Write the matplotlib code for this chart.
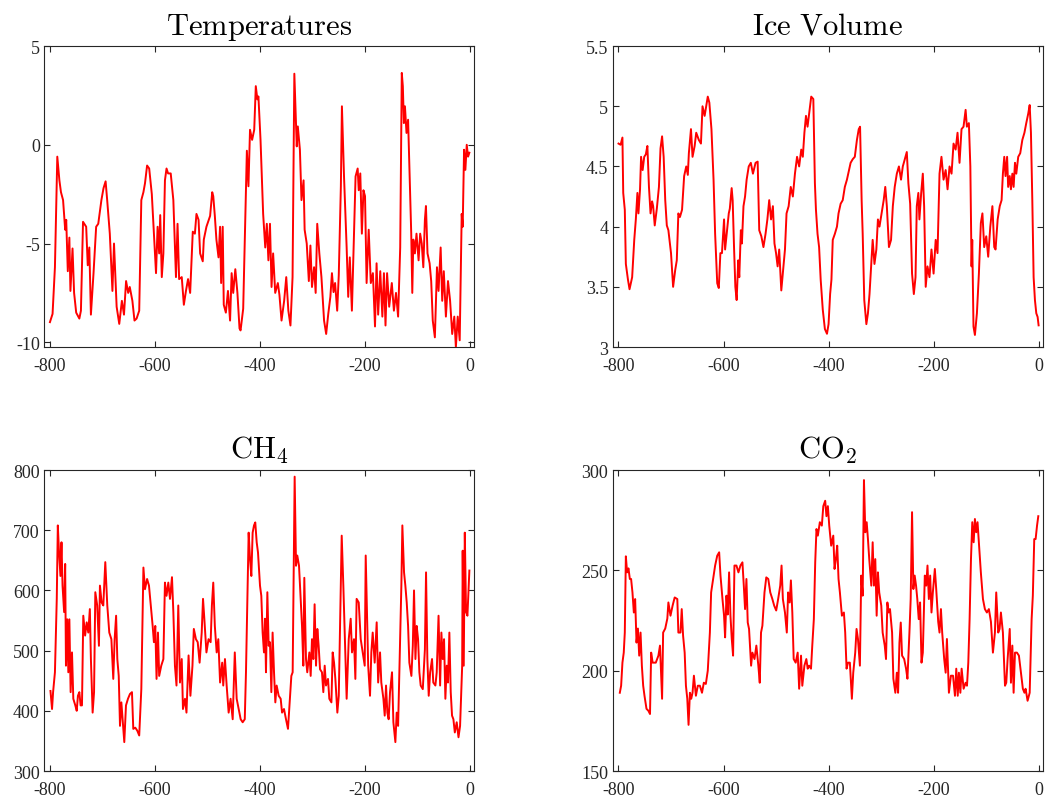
import matplotlib
matplotlib.use('Agg')
import matplotlib.pyplot as plt

plt.rcParams['font.family'] = ['Liberation Serif', 'DejaVu Serif']
plt.rcParams['mathtext.fontset'] = 'cm'
plt.rcParams['axes.unicode_minus'] = False

# Temperatures (ka BP, anomaly)
temp_age = [-800, -795, -790.5, -786, -782, -779, -775, -771, -769, -766, -763, -761, -757, -754, -750,
            -744, -741, -737, -731, -728, -725, -722, -717, -712, -708, -702, -698, -694, -691, -686,
            -681, -678, -673, -668, -663, -659, -655, -651, -648, -643, -639, -635, -630, -626, -622,
            -619, -615, -611, -606, -602, -598, -595, -592, -590, -587, -584, -581, -578, -575, -570,
            -565, -560, -557, -554, -549, -545, -541, -537, -533, -528, -524, -521, -517, -514, -509,
            -507, -502, -495, -491, -489, -486, -483, -479, -476, -474, -471, -469, -465, -461, -457,
            -454, -451, -447, -443, -439, -437, -432, -428, -425, -422, -419, -415, -411, -408, -405,
            -403, -399, -394, -390, -387, -384, -381, -378, -375, -371, -366, -363, -359, -354, -350,
            -346, -342, -338, -334.6, -333, -330, -328, -324, -321, -317, -315, -311, -307, -304, -301,
            -297, -294, -291, -287, -283, -278, -274, -270, -266, -263, -260, -257, -253, -250, -246,
            -244, -240, -235, -232, -229, -225, -222, -218, -214, -212, -209, -206, -203, -200, -197,
            -193, -189, -185, -181, -178, -175, -171, -167, -164, -161, -158, -154, -149, -145, -141,
            -137, -133, -130, -128, -126, -124, -121, -118, -114, -112, -110, -108, -105, -102, -98,
            -95, -92, -89, -86, -84, -81, -77, -74, -71, -67, -63, -60, -56, -53, -50,
            -46, -42, -38, -34, -30, -27, -23.5, -19.7, -15.9, -14, -11.4, -8.9, -6.3, -3.8, -1.3]
temp_val = [-8.98, -8.56, -6.2, -0.6, -1.8, -2.4, -2.8, -4.3, -3.8, -6.4, -4.7, -7.4, -5.25, -7.5, -8.5,
            -8.8, -8.4, -3.9, -4.15, -6.1, -5.2, -8.6, -6.5, -4.15, -4.0, -2.8, -2.2, -1.85, -2.8, -4.5,
            -7.4, -5.0, -8.2, -9.07, -7.9, -8.6, -6.9, -7.5, -7.2, -7.9, -8.9, -8.8, -8.4, -2.8, -2.4,
            -1.95, -1.05, -1.2, -2.5, -4.5, -6.5, -4.15, -5.5, -3.56, -6.7, -5.5, -1.8, -1.2, -1.45, -1.45,
            -2.8, -6.7, -4.0, -6.8, -6.7, -8.1, -7.4, -6.8, -7.5, -4.4, -4.5, -3.5, -3.8, -5.5, -5.9,
            -4.8, -4.15, -3.6, -2.4, -2.6, -3.6, -4.8, -5.7, -4.15, -7.0, -4.15, -8.1, -8.5, -7.4, -8.9,
            -6.5, -7.5, -6.3, -7.5, -9.3, -9.4, -8.3, -3.8, -0.3, -2.1, 0.76, 0.25, 0.76, 2.97, 2.3,
            2.45, 0.25, -3.5, -5.2, -4.0, -5.85, -4.0, -7.2, -5.5, -7.5, -7.0, -7.6, -8.9, -7.9, -6.7,
            -8.4, -9.15, -6.7, 3.6, 2.3, -0.08, 0.93, -0.25, -2.8, -1.8, -4.3, -5.0, -6.9, -5.1, -7.2,
            -6.2, -7.5, -4.0, -5.5, -6.7, -8.9, -9.58, -8.56, -7.7, -6.5, -7.46, -7.0, -8.4, -6.6, -2.1,
            1.95, -1.6, -5.2, -7.7, -5.7, -8.4, -5.5, -1.6, -1.2, -2.3, -1.45, -4.5, -2.3, -2.6, -7.0,
            -4.3, -7.0, -6.5, -9.2, -6.0, -8.6, -6.4, -8.7, -6.5, -9.15, -6.5, -8.2, -7.0, -8.4, -7.5,
            -8.7, -5.2, 3.64, 2.97, 1.1, 1.95, 0.6, 1.27, -2.46, -4.5, -7.5, -4.8, -5.5, -4.5, -5.85,
            -4.5, -5.0, -6.2, -3.8, -3.1, -5.5, -6.0, -6.9, -8.9, -9.75, -6.2, -7.4, -5.2, -7.9, -6.4,
            -8.7, -6.9, -7.9, -9.58, -8.7, -10.25, -8.7, -9.9, -3.5, -4.15, -0.25, -1.27, 0.0, -0.6, -0.4]

# Ice volume
ice_age = [-800, -796, -792.5, -791, -788, -786, -782, -779, -774, -770, -767, -764, -762, -759, -757,
           -754, -751, -748, -745, -742, -739, -736, -734, -731, -727, -723, -720, -717, -714, -711,
           -708, -705, -700, -696, -692, -689, -686, -683, -679, -675, -671, -668, -666, -662, -659,
           -655, -652, -647, -643, -640, -636, -633, -630, -627, -623, -619, -616, -612, -609, -606,
           -603, -599, -597, -594, -590, -588, -584.5, -582.6, -580, -577.5, -575, -572, -570, -567, -565,
           -562, -559, -556, -552, -548, -544, -539, -535, -532, -528, -524, -520, -516.5, -513, -509.5,
           -506, -503, -500, -497, -494, -490, -486, -483, -480, -476, -472, -468, -464, -460, -456,
           -452, -449, -446, -443, -440, -436, -433, -429, -426, -424, -421, -418, -415, -411, -407,
           -403, -400, -397, -394.5, -392, -388, -384, -381, -377, -373, -369, -365, -361, -358, -354,
           -350, -346, -342.5, -340, -337, -335, -332, -328, -325, -322, -319, -316, -312.6, -309, -306,
           -303, -299, -295, -292, -289, -285, -281, -277.6, -274, -270, -266, -262, -258.6, -254.8, -251,
           -248, -244.6, -241, -237.6, -234.4, -232, -229, -227, -223.6, -220.5, -218, -215, -211.6, -207.8, -204,
           -200, -196, -192.5, -188.7, -185, -181, -177, -173.4, -169.6, -165.8, -162, -158, -154.4, -150.6, -146.8,
           -143, -139, -136.6, -132.8, -130, -127.7, -126.4, -124, -121.3, -117.5, -113.7, -110, -107, -103.6, -99.7,
           -96, -92, -88, -84.5, -82, -78, -74, -70.5, -68, -65.4, -63, -60, -58, -55, -52.7,
           -50, -47.6, -45, -42.5, -38.8, -35, -31, -27, -23.5, -19.7, -17, -14.6, -12, -9.5, -7,
           -4.4, -1.9, 0]
ice_val = [4.69, 4.68, 4.74, 4.28, 4.14, 3.69, 3.56, 3.48, 3.58, 3.89, 4.06, 4.28, 4.11, 4.31, 4.58,
           4.47, 4.58, 4.6, 4.67, 4.33, 4.11, 4.21, 4.17, 4.01, 4.15, 4.33, 4.65, 4.75, 4.58, 4.22,
           4.01, 3.97, 3.78, 3.5, 3.64, 3.72, 4.11, 4.08, 4.14, 4.42, 4.5, 4.43, 4.61, 4.81, 4.58,
           4.67, 4.78, 4.72, 4.69, 5.0, 4.92, 5.0, 5.08, 5.03, 4.81, 4.39, 3.94, 3.53, 3.49, 3.78,
           3.78, 4.06, 3.81, 3.94, 4.11, 4.15, 4.32, 4.22, 3.83, 3.5, 3.39, 3.72, 3.58, 3.97, 3.86,
           4.17, 4.25, 4.39, 4.5, 4.53, 4.44, 4.53, 4.54, 3.97, 3.92, 3.83, 3.94, 4.06, 4.22, 4.06,
           4.17, 3.86, 3.78, 3.67, 3.81, 3.47, 3.67, 3.81, 4.11, 4.17, 4.33, 4.25, 4.44, 4.58, 4.5,
           4.64, 4.58, 4.78, 4.92, 4.83, 4.97, 5.08, 5.06, 4.36, 4.14, 3.94, 3.83, 3.56, 3.31, 3.15,
           3.11, 3.19, 3.44, 3.56, 3.89, 3.94, 4.0, 4.11, 4.19, 4.22, 4.33, 4.39, 4.47, 4.53, 4.56,
           4.58, 4.72, 4.81, 4.83, 4.22, 3.94, 3.39, 3.19, 3.28, 3.44, 3.67, 3.89, 3.69, 3.81, 4.06,
           4.0, 4.11, 4.22, 4.33, 4.17, 3.83, 3.89, 4.17, 4.33, 4.44, 4.5, 4.39, 4.5, 4.56, 4.62,
           4.36, 4.19, 3.61, 3.44, 3.58, 4.17, 4.28, 4.06, 4.28, 4.44, 4.17, 3.5, 3.67, 3.58, 3.81,
           3.61, 3.89, 3.78, 4.44, 4.58, 4.39, 4.47, 4.31, 4.5, 4.44, 4.69, 4.64, 4.78, 4.53, 4.81,
           4.83, 4.97, 4.83, 4.86, 4.5, 3.67, 3.89, 3.17, 3.1, 3.28, 3.61, 4.03, 4.11, 3.83, 3.92,
           3.75, 4.0, 4.17, 3.83, 3.81, 4.06, 4.17, 4.22, 4.44, 4.58, 4.42, 4.58, 4.33, 4.42, 4.31,
           4.44, 4.33, 4.53, 4.44, 4.58, 4.61, 4.72, 4.78, 4.86, 4.94, 5.01, 4.78, 4.22, 3.58, 3.39,
           3.28, 3.25, 3.18]

# CH4 (ppb)
ch4_age = [-799, -796, -794, -790.5, -787, -785, -783, -780, -778, -776, -773, -771, -769.5, -767, -765,
           -763, -760.6, -758, -755.5, -751.7, -749, -746.7, -744, -741.6, -739, -736.5, -733, -730, -727, -724,
           -722, -718.7, -716, -713.6, -710, -706.7, -704.8, -701.6, -698.4, -694.6, -690.8, -687, -683, -679.4, -676.8,
           -674, -671.7, -669, -666.6, -664, -661.6, -658.4, -655.2, -651.4, -647.6, -643.8, -641.3, -637.5, -633.7, -630,
           -626, -622, -619, -615, -611.4, -608, -604.4, -602, -599.4, -597, -594.3, -592, -588, -584, -581,
           -578, -574.6, -571.4, -567.6, -565, -562, -559, -555.6, -552.4, -549, -546.7, -542.8, -540, -536, -532.5,
           -528.6, -526, -522, -518.6, -515, -511, -508.5, -506, -502, -498, -494, -491.6, -489, -486, -482.5,
           -479.4, -476, -472, -470, -466.7, -463.5, -459.7, -456, -452, -448, -444.4, -440.6, -436.8, -433, -429,
           -426.7, -424, -421.6, -419, -416.5, -414, -411.4, -409, -406.3, -403.8, -400, -397.5, -395, -392.4, -390.5,
           -388.6, -386, -383.5, -381, -378.4, -376, -373.3, -370.8, -368.3, -364.4, -360.6, -358, -354.3, -350.5, -346.7,
           -343, -340.3, -337.8, -334, -331.4, -329, -325.7, -322.5, -320, -317.5, -315.6, -312.4, -310, -306, -303.5,
           -301, -298.4, -296, -293.3, -290.8, -288.3, -285.7, -282, -279.4, -276.8, -274.3, -270.5, -268, -264, -261.6,
           -259, -256.5, -252.7, -250, -247.6, -244.4, -241.3, -238.7, -235, -231, -227.3, -224.8, -221, -218.4, -216,
           -212, -208.2, -204.4, -200.6, -198.7, -196.8, -194, -190.5, -188, -185.4, -181.6, -177.8, -175, -171.4, -169,
           -165, -162.5, -160, -157.5, -155, -152.4, -148.6, -146, -142.2, -139.7, -137, -134.6, -130.8, -128.9, -125.7,
           -123.2, -120.6, -118, -115.6, -111.7, -109, -106.7, -104, -101.6, -99, -96.5, -94, -90, -86, -83.8,
           -81.3, -78.7, -76, -72.4, -70, -66, -63.5, -60, -57, -54.6, -52, -49.5, -47, -44.4, -42,
           -39.4, -36.8, -34.3, -31.7, -29, -25.4, -22, -19, -15, -14, -12, -10, -7.6, -5, -2.5, -1.3]
ch4_val = [433, 403, 431, 464, 586, 708, 669, 624, 680, 608, 564, 644, 475, 552, 464,
           552, 431, 497, 420, 409, 400, 425, 431, 409, 409, 558, 525, 547, 530, 569,
           486, 397, 431, 597, 575, 508, 608, 580, 575, 647, 575, 530, 519, 453, 519,
           558, 486, 458, 375, 414, 386, 348, 409, 420, 428, 431, 370, 372, 367, 359,
           436, 638, 602, 619, 608, 575, 541, 514, 541, 453, 530, 458, 475, 486, 613,
           591, 613, 586, 622, 564, 475, 442, 575, 447, 486, 403, 420, 397, 492, 425,
           475, 536, 519, 514, 480, 530, 586, 553, 497, 519, 514, 575, 613, 541, 497,
           519, 447, 480, 442, 486, 442, 397, 420, 386, 497, 420, 403, 386, 381, 386,
           464, 586, 696, 652, 624, 696, 708, 713, 680, 663, 608, 591, 530, 497, 553,
           464, 597, 508, 514, 431, 530, 464, 414, 442, 425, 420, 397, 403, 386, 370,
           420, 458, 464, 789, 641, 658, 641, 586, 541, 475, 621, 486, 464, 497, 458,
           519, 486, 577, 475, 536, 508, 469, 464, 431, 475, 442, 453, 420, 414, 497,
           480, 453, 397, 425, 536, 691, 608, 530, 420, 519, 553, 497, 519, 453, 586,
           580, 519, 497, 475, 658, 586, 475, 425, 497, 530, 480, 547, 447, 497, 447,
           420, 392, 442, 397, 386, 431, 464, 381, 348, 397, 375, 464, 608, 708, 630,
           608, 580, 541, 480, 458, 508, 600, 486, 541, 519, 464, 442, 436, 502, 630,
           486, 425, 464, 486, 447, 442, 464, 558, 442, 530, 486, 519, 420, 475, 447,
           530, 431, 392, 386, 364, 381, 356, 375, 475, 666, 475, 696, 564, 558, 608, 633]

# CO2 (ppm)
co2_age = [-797.5, -795, -792.5, -790, -788, -786, -783.6, -781, -778.4, -776, -773.4, -770.8, -768.3, -765.7, -763,
           -760.6, -758, -755.5, -753, -750.5, -746.7, -743, -740, -737.8, -735, -729, -724, -721, -717, -715,
           -711, -707, -705, -701, -697, -693, -688, -686, -682, -679.6, -677, -674, -671.6, -669, -666.6,
           -664, -661.5, -659, -656.4, -652.6, -649, -645, -641, -637.5, -633.7, -630, -626, -623.6, -619.8, -616,
           -612, -608.3, -605.8, -602, -599, -597, -594.4, -592, -589.4, -586.8, -584.3, -581.8, -579.2, -575.4, -571.6,
           -567.8, -564, -561.4, -559, -556.4, -553.9, -551.4, -547.5, -545, -541, -537.5, -533.7, -531, -528.6, -526,
           -522, -518.6, -514.8, -511, -507, -503.5, -499.7, -496, -492, -489.5, -487, -483, -479.5, -477, -474,
           -471.7, -469, -466.4, -462.6, -458.8, -456, -452.4, -450, -446, -442.3, -439.7, -437, -433.4, -431, -428,
           -425.4, -423, -420.4, -416.6, -412.8, -410, -406.4, -404, -401.3, -398.7, -395, -391, -388.6, -386, -383.5,
           -381, -378.4, -374.6, -370.8, -368.3, -365.7, -363, -359.4, -355.6, -353, -349.2, -346.7, -344, -340.3, -337.8,
           -335, -332.6, -330, -327.4, -325, -322.5, -318.6, -316, -313.6, -311, -308.4, -306, -303.5, -299.6, -297,
           -293, -290.6, -288, -285.5, -283, -279, -276.6, -272.8, -270, -267.6, -265, -262.5, -260, -256, -252.4,
           -249.8, -246, -243.6, -241, -238.5, -236, -233.4, -231, -228.3, -225.7, -223, -220.5, -216.7, -214, -211.6,
           -209, -206.5, -204, -201.4, -197.6, -195, -191.2, -188.7, -186, -183.6, -179.8, -177, -174.6, -170.8, -167,
           -163, -159.3, -156.8, -154, -151.8, -149, -146.6, -142.8, -139, -136.4, -133.9, -131.4, -128.8, -126.3, -123.7,
           -121.3, -118.8, -116.3, -113.7, -110, -106, -102.3, -98.5, -94.7, -90.8, -87, -83.2, -80.7, -76.9, -74.3,
           -71.8, -68, -64, -61.6, -59, -55, -52.7, -50, -47.6, -45, -41.3, -37.5, -33.7, -30, -27,
           -24.8, -21, -17, -13.3, -11, -8.3, -5.7, -3, -0.6]
co2_val = [189, 192.5, 204, 209, 219, 257, 249, 251, 245.7, 245.7, 239, 229, 235.7, 214, 221,
           207.5, 219, 202.5, 192.5, 187.5, 181, 180, 178.4, 209, 204, 204, 207.5, 212.5, 186, 219,
           221, 226, 234, 227.4, 232.4, 236.5, 235.7, 219, 219, 230.7, 217.4, 209, 192.5, 186, 173,
           189, 186, 189, 197.5, 187.5, 192.5, 192.5, 189, 194, 193.4, 200, 219, 239, 245.7, 252.4,
           257.3, 259, 247.5, 235.7, 227.4, 216.6, 237.4, 228, 249, 227.4, 215.8, 207.5, 252.4, 252.4, 249,
           252.4, 254, 242.4, 230.7, 245.7, 224, 220.8, 202.5, 209, 205.8, 212.5, 202.5, 194, 219, 222.4,
           239, 246.5, 245.7, 239, 235.7, 232.4, 230, 235.7, 242.4, 252.4, 235.7, 229, 219, 239, 234,
           245, 229, 205.8, 204, 209, 191, 207.5, 192.5, 202.5, 205.8, 201, 202.5, 201, 212.5, 225.7,
           254, 270.6, 267.3, 274, 272.3, 282, 284.7, 277, 282, 272.3, 262.3, 267.3, 250.7, 255.6, 262.3,
           245.7, 239, 227.4, 229, 219, 201, 204, 204, 186, 199, 209, 220.8, 215.8, 202.5, 247.4,
           237.4, 295, 269, 274, 265.6, 255.6, 242.4, 264, 242.4, 255.6, 227.4, 249, 239, 232.4, 219,
           212.5, 205.8, 234, 229, 230.7, 219, 196, 189, 199, 189, 214, 224, 207.5, 205.8, 201,
           196, 219, 235.7, 279, 240.7, 247.4, 242.4, 235.7, 225.7, 234, 204, 209, 247.4, 242.4, 252.4,
           235.7, 247.4, 229, 239, 250.7, 240.7, 224.4, 219, 230.7, 219, 205.8, 199, 215.8, 189, 197.5,
           197.5, 187.5, 201, 187.5, 199, 189, 201, 191, 194, 192.5, 204, 225.7, 255.6, 274, 264,
           275.6, 269, 274, 264, 249, 235.7, 230.7, 229, 230.7, 224.4, 209, 219, 239, 219, 220.8,
           229, 219, 192.5, 194, 205.8, 220.8, 194, 212.5, 189, 209, 209, 207.5, 199, 191, 189,
           191, 185, 189, 225.7, 237.4, 265.6, 265.6, 272.3, 277]

series = [
    (temp_age, temp_val, r'$\mathrm{Temperatures}$', (-10.24, 5), [-10, -5, 0, 5], ['-10', '-5', '0', '5']),
    (ice_age, ice_val, r'$\mathrm{Ice\ Volume}$', (3, 5.5), [3, 3.5, 4, 4.5, 5, 5.5],
     ['3', '3.5', '4', '4.5', '5', '5.5']),
    (ch4_age, ch4_val, r'$\mathrm{CH}_4$', (300, 800), [300, 400, 500, 600, 700, 800],
     ['300', '400', '500', '600', '700', '800']),
    (co2_age, co2_val, r'$\mathrm{CO}_2$', (150, 300), [150, 200, 250, 300], ['150', '200', '250', '300']),
]

positions = [
    [0.0419, 0.5666, 0.410, 0.3748],
    [0.5839, 0.5666, 0.410, 0.3748],
    [0.0419, 0.0386, 0.410, 0.3748],
    [0.5839, 0.0386, 0.410, 0.3748],
]

fig = plt.figure(figsize=(10.49, 8.03), dpi=100)
for (age, val, title, ylim, yt, ytl), pos in zip(series, positions):
    ax = fig.add_axes(pos)
    ax.plot(age, val, color='#ff0000', linewidth=1.4)
    ax.set_xlim(-811.4, 7.6)
    ax.set_ylim(*ylim)
    ax.set_xticks([-800, -600, -400, -200, 0])
    ax.set_xticklabels(['-800', '-600', '-400', '-200', '0'])
    ax.set_yticks(yt)
    ax.set_yticklabels(ytl)
    ax.tick_params(direction='in', top=True, right=True, length=4, width=0.8,
                   colors='#262626', labelsize=13)
    ax.tick_params(axis='x', pad=7)
    ax.tick_params(axis='y', pad=3)
    for sp in ax.spines.values():
        sp.set_color('#262626')
        sp.set_linewidth(0.8)
    ax.set_title(title, fontsize=22, pad=9, color='black')

fig.savefig('out.png', dpi=100)
